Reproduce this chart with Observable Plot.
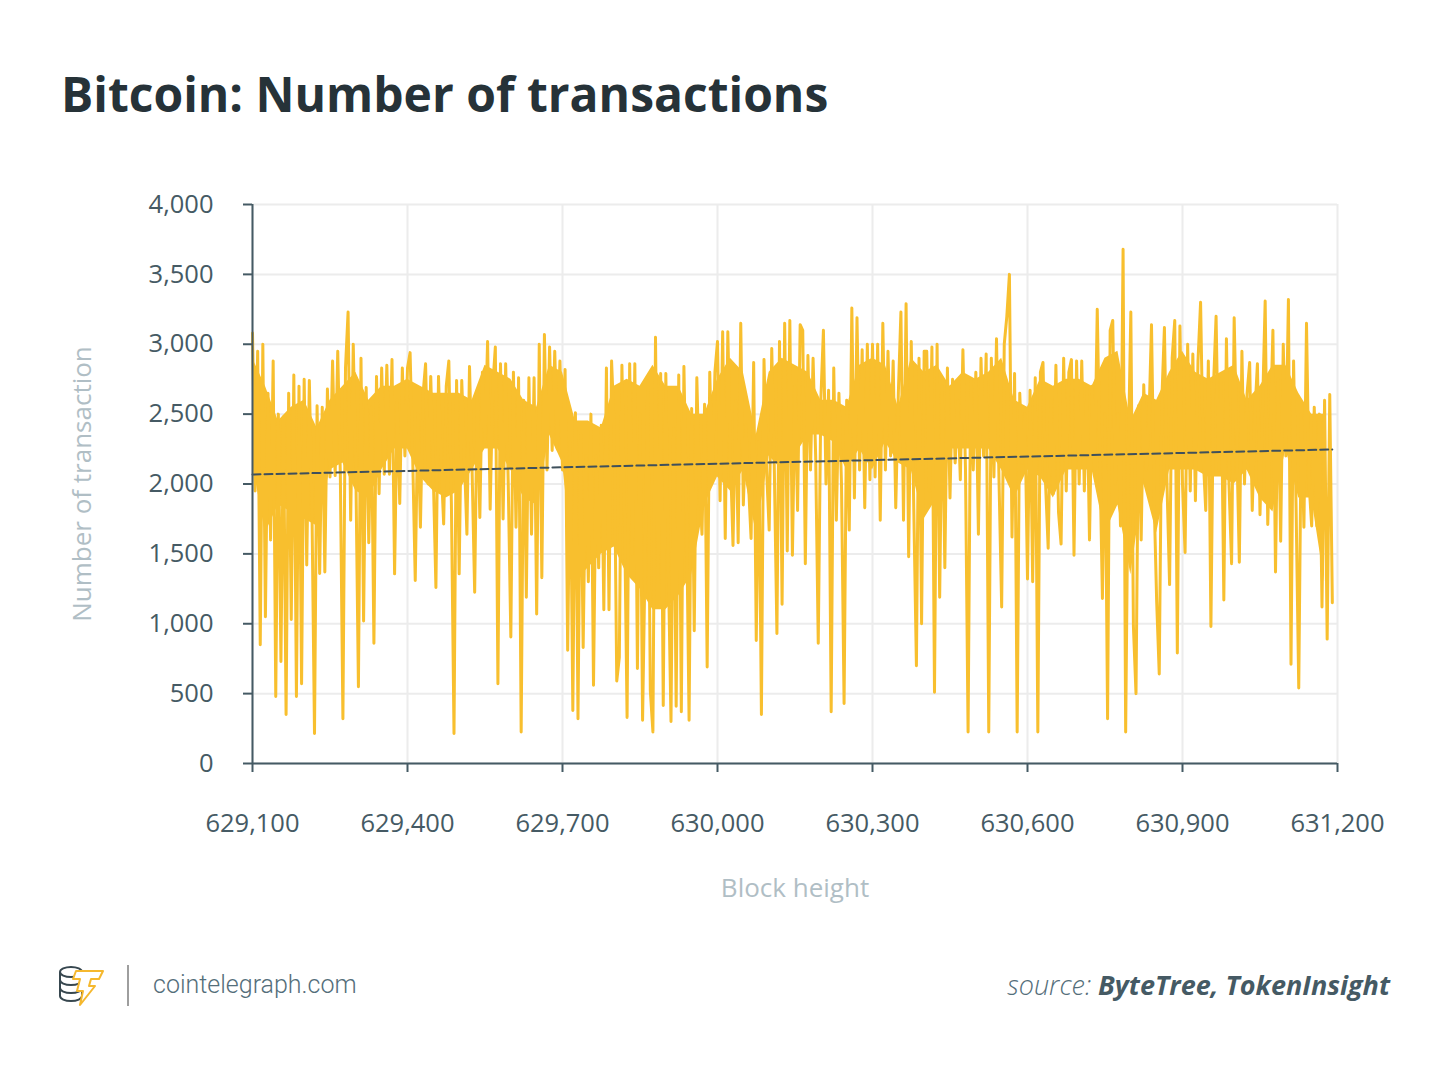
<!DOCTYPE html>
<html><head><meta charset="utf-8">
<script src="https://cdn.jsdelivr.net/npm/d3@7"></script>
<script src="https://cdn.jsdelivr.net/npm/@observablehq/plot@0.6"></script>
<style>
body{margin:0;background:#fff;width:1450px;height:1067px;position:relative;overflow:hidden;font-family:"Open Sans",sans-serif;}
#title{position:absolute;left:61px;top:70px;font-size:48px;font-weight:700;color:#263238;line-height:1;white-space:nowrap;}
#chart{position:absolute;left:0;top:0;}
#logo{position:absolute;left:56px;top:962px;}
#divider{position:absolute;left:127px;top:965px;width:2px;height:41px;background:#9e9e9e;}
#site{position:absolute;left:153px;top:970px;font-family:Roboto,sans-serif;font-weight:300;font-size:25px;color:#546e7a;line-height:1.2;}
#source{position:absolute;right:60px;top:969px;font-style:italic;font-size:27px;color:#455a64;line-height:1.2;white-space:nowrap;}
#source .s{font-weight:300;color:#546e7a;}
#source b{font-weight:700;}
</style>
</head><body>
<div id="title">Bitcoin: Number of transactions</div>
<div id="chart"></div>
<svg id="logo" width="52" height="46" viewBox="0 0 52 46">
  <g fill="none" stroke="#37474f" stroke-width="2">
    <ellipse cx="15" cy="10" rx="11" ry="5"/>
    <path d="M4 10 V34 M26 10 V34"/>
    <path d="M4 18 A11 5 0 0 0 26 18"/>
    <path d="M4 26 A11 5 0 0 0 26 26"/>
    <path d="M4 34 A11 5 0 0 0 26 34"/>
  </g>
  <polygon points="20,9 47,9 43,17 35,17 33,24 39,24 24,43 27,29 21,29 24,17 17,17" fill="#fff" stroke="#f5b82e" stroke-width="2" stroke-linejoin="round"/>
</svg>
<div id="divider"></div>
<div id="site">cointelegraph.com</div>
<div id="source"><span class="s">source: </span><b>ByteTree, TokenInsight</b></div>
<script>
// Line samples, every 5 blocks starting at block 629,100
const blockStart = 629100;
const blockStep = 5;
const txCounts = [
3080,1950,2950,850,3000,1050,2650,1600,2880,480,
2500,730,2480,350,2650,1030,2780,480,2700,570,
2750,1420,2740,1850,215,2560,1360,2550,1370,2680,
2050,2880,2060,2950,2070,320,2830,3230,1740,3000,
2100,550,2900,1020,2690,1580,2550,860,2770,1930,
2830,2070,
2850,2070,2890,1357,2600,1860,2830,2200,2830,2940,
2200,1310,2500,1690,2640,2860,2000,2770,2050,1260,
2770,2150,1714,2700,2880,1850,214,2740,1357,2740,
2200,1640,2840,2100,1226,2670,1760,2800,2300,3020,
1820,2700,2980,570,2860,1750,2860,2000,905,2800,
1690,2760,
226,2600,1190,2760,1640,2760,1070,3000,1330,3070,
2100,2980,2240,2950,2250,2880,2100,2820,810,2300,
380,2510,320,2360,830,2200,1300,2500,560,2200,
1400,2420,1100,2830,1100,2880,2400,590,760,2850,
1800,330,2860,1500,2860,680,2500,310,1500,2740,
520,226,
3050,1290,2790,415,2790,1380,300,2400,410,2780,
370,2840,1800,310,2540,950,2760,2000,1640,2570,
690,2800,2020,2800,3020,1880,3090,1610,3090,2200,
1560,2600,1580,3150,1850,2420,2000,1610,2870,880,
2300,350,2890,2100,1670,2970,2100,930,3020,1140,
3150,1520,
3170,1490,2700,1810,3140,3100,1430,2920,2100,2900,
2200,860,2600,3100,2000,2670,370,2830,1740,2650,
2000,430,2600,1670,3260,1900,3190,2100,2960,1830,
3000,2030,3000,2050,3000,1740,3150,2100,2950,2200,
2880,1830,2650,3230,1740,3290,1480,3020,1800,700,
2900,1000,2950,
2950,1950,2980,510,3000,1190,2700,1400,2830,1900,
2750,2150,2600,2030,2960,2100,226,2750,2100,2800,
1640,2900,2200,2930,226,2900,2050,3040,2000,1120,
3000,3200,3500,1620,2790,226,2650,2150,2500,1320,
2670,1300,2760,226,2800,2870,2000,1540,2600,1930,
2850,1800,
1570,2900,1950,2800,2890,1490,2880,2000,2880,1950,
2700,1600,2700,2100,3250,2200,1180,2500,320,3100,
3170,2000,2500,1700,3680,226,2200,3230,980,500,
2560,1600,2710,2100,2450,3140,1900,1160,640,2600,
3120,2000,1280,2900,3170,790,3130,2000,1510,3000,
1950,2930,
1880,2880,3300,2200,1810,2880,980,2700,3200,2100,
2750,1170,3040,2000,1430,3190,2300,1440,2950,2000,
2650,2870,1810,2500,2860,1780,2550,3310,1710,2400,
3100,1370,2750,1590,3000,2200,3320,710,2880,1800,
540,2500,1690,3150,2000,1700,2550,1700,2500,1120,
2600,890,2640,1150
];
// Densely overplotted core of the line, read every 25 blocks from 629,100
const bandStart = 629100;
const bandStep = 25;
const bandHigh = [
2900,2700,2450,2550,2600,2400,2600,2700,2800,2600,
2700,2700,2750,2700,2650,2650,2650,2600,2850,2800,
2750,2600,2550,2850,2800,2450,2450,2400,2700,2750,
2700,2850,2700,2700,2500,2500,2750,2900,2800,2350,
2800,2900,2850,2800,2600,2600,2550,2850,2900,2850,
2550,2900,2800,2850,2700,2800,2750,2800,2900,2600,
2550,2750,2700,2750,2750,2700,2900,2950,2450,2650,
2600,2800,2950,2800,2750,2800,2850,2600,2700,2850,
2850,2650,2500,2500
];
const bandLow = [
2150,1650,1850,1800,1750,1700,2100,2150,1950,1900,
2100,2250,2250,2050,1950,1900,1950,2100,2250,2250,
2100,1900,1850,2350,2150,1300,1400,1500,1550,1350,
1250,1100,1100,1200,1350,1850,2050,1950,2100,1650,
2200,2100,2200,2350,2350,2300,2100,2250,2100,2300,
2150,2100,1750,1900,2250,2250,2250,2250,2100,1900,
2100,2050,1900,2100,2100,2100,1650,1850,1350,2000,
1650,2100,2100,2100,2050,2050,2000,2100,1900,1800,
2250,1900,1900,1300
];
const trendBlocks = [629100, 631190];
const trendCounts = [2068, 2247];
const xTicks = [629100, 629400, 629700, 630000, 630300, 630600, 630900, 631200];
const yTicks = [0, 500, 1000, 1500, 2000, 2500, 3000, 3500, 4000];
const xLabel = "Block height";
const yLabel = "Number of transaction";

const series = txCounts.map((v, i) => ({block: blockStart + i * blockStep, tx: v}));
const band = bandHigh.map((h, i) => ({block: bandStart + i * bandStep, hi: h, lo: bandLow[i]}));
const trend = trendBlocks.map((b, i) => ({block: b, tx: trendCounts[i]}));
const fmt = d3.format(",");
const axisColor = "#455a64";
const lineColor = "#f8bf2e";

const chart = Plot.plot({
  width: 1450, height: 940,
  marginLeft: 252, marginRight: 113, marginTop: 204, marginBottom: 177,
  style: {fontFamily: "'Open Sans', sans-serif", fontSize: "25.5px", background: "transparent", overflow: "visible"},
  x: {domain: [629100, 631200]},
  y: {domain: [0, 4000]},
  marks: [
    Plot.gridX(xTicks, {stroke: "#ececec", strokeOpacity: 1, strokeWidth: 2}),
    Plot.gridY(yTicks, {stroke: "#ececec", strokeOpacity: 1, strokeWidth: 2}),
    Plot.areaY(band, {x: "block", y1: "lo", y2: "hi", fill: lineColor}),
    Plot.lineY(series, {x: "block", y: "tx", stroke: lineColor, strokeWidth: 3}),
    Plot.line(trend, {x: "block", y: "tx", stroke: "#3f505c", strokeWidth: 2, strokeDasharray: "8,4"}),
    Plot.ruleX([629100], {y1: 0, y2: 4000, stroke: axisColor, strokeWidth: 2}),
    Plot.ruleY([0], {stroke: axisColor, strokeWidth: 2}),
    Plot.axisX(xTicks, {tickFormat: fmt, tickSize: 9, tickPadding: 41, stroke: axisColor, fill: axisColor, strokeWidth: 2, label: null}),
    Plot.axisY(yTicks, {tickFormat: fmt, tickSize: 9, tickPadding: 30, stroke: axisColor, fill: axisColor, strokeWidth: 2, label: null}),
    Plot.text([xLabel], {frameAnchor: "bottom", dy: 125, fill: "#b0bec5", fontSize: 26, lineAnchor: "middle"}),
    Plot.text([yLabel], {frameAnchor: "left", dx: -170, rotate: -90, textAnchor: "middle", fill: "#b0bec5", fontSize: 26, lineAnchor: "middle"})
  ]
});
document.getElementById("chart").appendChild(chart);
</script>
</body></html>
